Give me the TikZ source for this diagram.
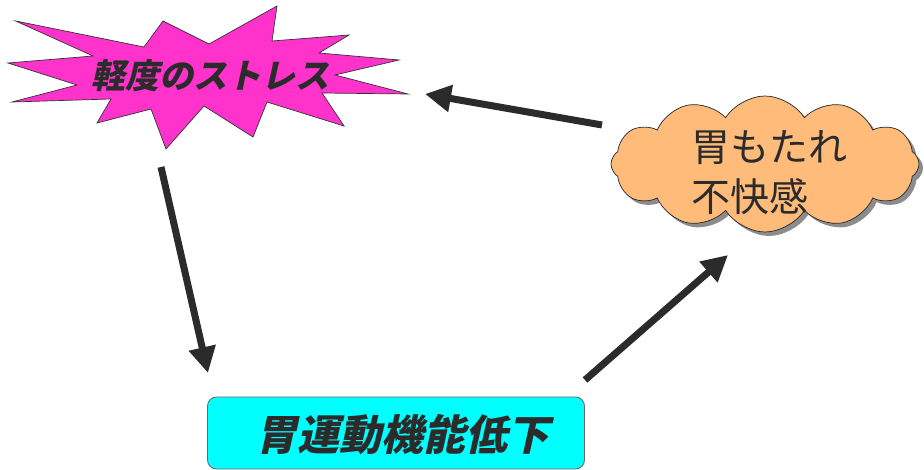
\documentclass[tikz,border=0pt]{standalone}
\usepackage{fontspec}
\newfontfamily\jp{Noto Sans CJK JP}
\newfontfamily\jpsl[FakeSlant=0.22]{Noto Sans CJK JP}
\usetikzlibrary{shapes.symbols,shadows,arrows.meta}
\definecolor{txt}{HTML}{2B2B2B}
\definecolor{starpink}{HTML}{FF33CC}
\definecolor{cloudor}{HTML}{FFBB7A}
\definecolor{boxcyan}{HTML}{00FFFF}
\tikzset{
  bigarrow/.style={draw=txt, line width=7pt, -{Triangle[length=26pt,width=26pt]}},
  starshape/.style={fill=starpink, draw=black!80, line width=0.7pt, line join=miter},
  cloudshape/.style={cloud, cloud puffs=12, cloud puff arc=115, aspect=2.4, fill=cloudor, draw=black!85, line width=0.7pt,
    minimum width=308pt, minimum height=136pt, inner sep=0pt,
    drop shadow={shadow xshift=4pt, shadow yshift=-4pt, fill=black!45, opacity=1}},
  boxshape/.style={rectangle, rounded corners=9pt, fill=boxcyan, draw=black!60, line width=0.8pt,
    minimum width=377pt, minimum height=72pt},
}
\begin{document}
\begin{tikzpicture}[x=1pt,y=-1pt]
\useasboundingbox (0,0) rectangle (924,470);
% star
\path[starshape] (15.7,21) -- (144,47) -- (163,21) -- (209,44) -- (277,6) -- (272,41) -- (349,35) -- (319,53) -- (399,60) -- (335,75) -- (408,94) -- (322,93) -- (344,126) -- (267,102) -- (253,137) -- (204,106) -- (166,149) -- (151,109) -- (97,123) -- (111,99) -- (12,102) -- (77,85) -- (8,63) -- (93,56) -- cycle;
\node[text=txt, font=\jpsl\bfseries\fontsize{34pt}{38pt}\selectfont] (stress) at (210,76) {軽度のストレス};
% cloud
\node[cloudshape] (cloud) at (765,164) {};
\node[text=txt, font=\jp\fontsize{39pt}{50pt}\selectfont, align=left, anchor=west, inner sep=0pt] (cloudtext) at (691,173) {胃もたれ\\不快感};
% box
\node[boxshape] (box) at (396,433) {};
\node[text=txt, font=\jpsl\bfseries\fontsize{42pt}{46pt}\selectfont] (boxtext) at (402,435) {胃運動機能低下};
% arrows
\coordinate (a1s) at (602,125);
\coordinate (a1e) at (425,94);
\coordinate (a2s) at (161,167);
\coordinate (a2e) at (208,373);
\coordinate (a3s) at (585,380);
\coordinate (a3e) at (728,255);
\draw[bigarrow] (a1s) -- (a1e);
\draw[bigarrow] (a2s) -- (a2e);
\draw[bigarrow] (a3s) -- (a3e);
\end{tikzpicture}
\end{document}
